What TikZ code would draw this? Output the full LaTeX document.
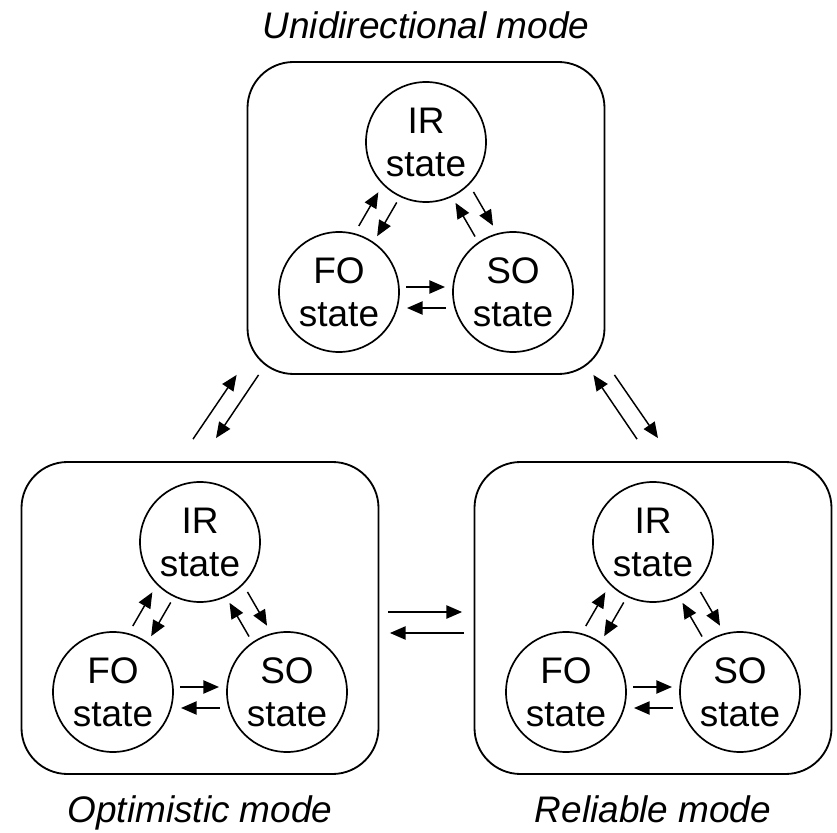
\documentclass[tikz,border=0pt]{standalone}
\usepackage{fontspec}
\setmainfont{Liberation Sans}
\usetikzlibrary{arrows.meta,calc}

% two opposite arrows between two states: #1 -> #2 outside, #2 -> #1 inside
\newcommand{\twoway}[2]{%
	\draw[flowarrow] ($(#1)!1.675cm!(#2)!0.4cm!90:(#2)$) -- ($(#1)!2.65cm!(#2)!0.4cm!90:(#2)$);
	\draw[flowarrow] ($(#2)!1.675cm!(#1)!0.125cm!90:(#1)$) -- ($(#2)!2.65cm!(#1)!0.125cm!90:(#1)$);
}

\begin{document}
\begin{tikzpicture}[
		modebox/.style={draw, line width=1.3pt, rounded corners=1.15cm, minimum width=8.925cm, minimum height=7.8cm},
		statecircle/.style={draw, circle, line width=1.2pt, minimum size=3cm, inner sep=0pt, align=center, font=\fontsize{26.3}{30.6}\selectfont},
		flowarrow/.style={-{Triangle[length=3.9mm,width=3.3mm]}, line width=1.05pt},
		modetitle/.style={anchor=base, font=\fontsize{26.3}{31}\selectfont\itshape}
	]
		\useasboundingbox (0,0) rectangle (20.925,20.8);
		%Modi mit ihren Zustaenden
		\foreach \m/\x/\y in {uni/10.65/15.35, opt/5.0/5.35, rel/16.325/5.35} {
			\node[modebox] (\m) at (\x,\y) {};
			\node[statecircle] (\m-ir) at (\x,\y+1.9) {IR\\state};
			\node[statecircle] (\m-fo) at (\x-2.175,\y-1.85) {FO\\state};
			\node[statecircle] (\m-so) at (\x+2.175,\y-1.85) {SO\\state};
			\twoway{\m-fo}{\m-ir}
			\twoway{\m-ir}{\m-so}
			\twoway{\m-so}{\m-fo}
		}
		%Namen
		\node[modetitle] (uni-title) at ($(uni.north)+(0,0.575)$) {Unidirectional mode};
		\node[modetitle] (opt-title) at ($(opt.south)+(0,-1.2)$) {Optimistic mode};
		\node[modetitle] (rel-title) at ($(rel.south)+(0,-1.2)$) {Reliable mode};
		%Wechsel zwischen den Modi
		\draw[flowarrow] ($(opt.north)+(-0.175,0.55)$) -- ($(uni.south west)+(-0.25,0)$);
		\draw[flowarrow] ($(uni.south west)+(0.3,0)$) -- ($(opt.north)+(0.4,0.575)$);
		\draw[flowarrow] ($(rel.north)+(-0.4,0.55)$) -- ($(uni.south east)+(-0.3,0)$);
		\draw[flowarrow] ($(uni.south east)+(0.225,0)$) -- ($(rel.north)+(0.125,0.575)$);
		\draw[flowarrow] ($(opt.east)+(0.2125,0.15)$) -- ($(rel.west)+(-0.2875,0.15)$);
		\draw[flowarrow] ($(rel.west)+(-0.2375,-0.375)$) -- ($(opt.east)+(0.2625,-0.375)$);
\end{tikzpicture}
\end{document}
